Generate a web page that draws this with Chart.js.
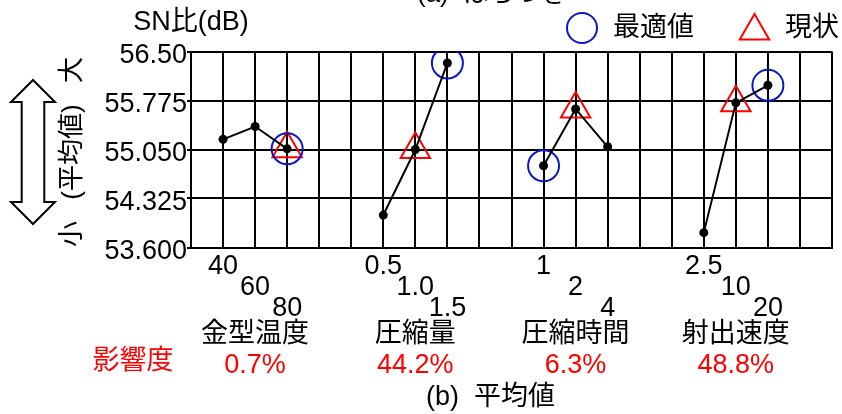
<!DOCTYPE html>
<html>
<head>
<meta charset="utf-8">
<script src="https://cdn.jsdelivr.net/npm/chart.js@4/dist/chart.umd.min.js"></script>
<style>
  html, body { margin: 0; padding: 0; background: #fff; }
  #wrap { width: 842px; height: 414px; }
</style>
</head>
<body>
<div id="wrap"><canvas id="c" width="842" height="414"></canvas></div>
<script>
// Factor effects on the mean (平均値): SN ratio in dB for each level of each factor
const factors = ['金型温度', '圧縮量', '圧縮時間', '射出速度'];
const levelLabels = [
  ['40', '60', '80'],
  ['0.5', '1.0', '1.5'],
  ['1', '2', '4'],
  ['2.5', '10', '20']
];
const meanSN = [
  [55.20, 55.39, 55.06],
  [54.08, 55.05, 56.33],
  [54.81, 55.65, 55.09],
  [53.82, 55.74, 56.00]
];
const optimalLevel = [2, 2, 0, 2];   // 最適値 (circle)
const currentLevel = [2, 1, 1, 1];   // 現状 (triangle)
const influence = ['0.7%', '44.2%', '6.3%', '48.8%'];
const yTicks = [53.6, 54.325, 55.05, 55.775, 56.5];
const yTickLabels = ['53.600', '54.325', '55.050', '55.775', '56.50'];

const FONT = '"Liberation Sans", Arial, "Noto Sans CJK JP", sans-serif';
const BLUE = '#0b16c8';
const RED = '#ff0000';

// each factor occupies 5 grid columns; its levels sit on columns 1..3 of the block
const slot = (f, l) => 1 + 5 * f + l;

const factorSets = factors.map((name, f) => ({
  label: name,
  data: meanSN[f].map((v, l) => ({ x: slot(f, l), y: v })),
  borderColor: '#000',
  borderWidth: 2,
  pointRadius: 4.5,
  pointBackgroundColor: '#000',
  pointBorderColor: '#000',
  pointBorderWidth: 0,
  tension: 0,
  order: 0
}));

const optimalSet = {
  label: '最適値',
  data: factors.map((_, f) => ({ x: slot(f, optimalLevel[f]), y: meanSN[f][optimalLevel[f]] })),
  showLine: false,
  pointStyle: 'circle',
  pointRadius: 15.5,
  pointBorderWidth: 2,
  pointBorderColor: BLUE,
  pointBackgroundColor: 'rgba(0,0,0,0)',
  order: 1
};

const currentSet = {
  label: '現状',
  data: factors.map((_, f) => ({ x: slot(f, currentLevel[f]), y: meanSN[f][currentLevel[f]] })),
  showLine: false,
  pointStyle: 'triangle',
  pointRadius: 17,
  pointBorderWidth: 2,
  pointBorderColor: RED,
  pointBackgroundColor: 'rgba(0,0,0,0)',
  order: 1
};

function levelTick(v) {
  const f = Math.floor((v - 1) / 5);
  const l = v - 1 - 5 * f;
  if (f < 0 || f >= factors.length || l < 0 || l > 2) return '';
  const lines = [];
  for (let i = 0; i < l; i++) lines.push('');
  lines.push(levelLabels[f][l]);
  return lines;
}

function marker(ctx, style, x, y, r, color) {
  ctx.save();
  ctx.strokeStyle = color;
  ctx.lineWidth = 2;
  ctx.beginPath();
  if (style === 'circle') {
    ctx.arc(x, y, r, 0, Math.PI * 2);
  } else {
    let a = 0;
    ctx.moveTo(x + Math.sin(a) * r, y - Math.cos(a) * r);
    a += 2 * Math.PI / 3;
    ctx.lineTo(x + Math.sin(a) * r, y - Math.cos(a) * r);
    a += 2 * Math.PI / 3;
    ctx.lineTo(x + Math.sin(a) * r, y - Math.cos(a) * r);
    ctx.closePath();
  }
  ctx.stroke();
  ctx.restore();
}

const annotations = {
  id: 'annotations',
  afterDraw(chart) {
    const ctx = chart.ctx;
    const xs = chart.scales.x;
    const area = chart.chartArea;
    ctx.save();
    ctx.fillStyle = '#000';

    // panel caption of the block above, cut by the top edge
    ctx.font = '26px ' + FONT;
    ctx.textAlign = 'left';
    ctx.textBaseline = 'alphabetic';
    ctx.fillText('(a)  ばらつき', 417, 2);

    // axis unit above the y axis
    ctx.textBaseline = 'middle';
    ctx.textAlign = 'center';
    ctx.font = '27px ' + FONT;
    ctx.fillText('SN比(dB)', area.left, 23);

    // legend
    ctx.font = '27px ' + FONT;
    ctx.textAlign = 'left';
    marker(ctx, 'circle', 582, 28, 15, BLUE);
    ctx.fillText(optimalSet.label, 613, 29);
    marker(ctx, 'triangle', 754.5, 31, 17, RED);
    ctx.fillText(currentSet.label, 785, 29);

    // hollow double arrow on the left
    const cx = 33, top = 80, bot = 224, hw = 22, sw = 11.3, hh = 22;
    ctx.beginPath();
    ctx.moveTo(cx, top);
    ctx.lineTo(cx + hw, top + hh);
    ctx.lineTo(cx + sw, top + hh);
    ctx.lineTo(cx + sw, bot - hh);
    ctx.lineTo(cx + hw, bot - hh);
    ctx.lineTo(cx, bot);
    ctx.lineTo(cx - hw, bot - hh);
    ctx.lineTo(cx - sw, bot - hh);
    ctx.lineTo(cx - sw, top + hh);
    ctx.lineTo(cx - hw, top + hh);
    ctx.closePath();
    ctx.fillStyle = '#fff';
    ctx.fill();
    ctx.lineWidth = 2;
    ctx.strokeStyle = '#000';
    ctx.lineJoin = 'miter';
    ctx.stroke();

    // rotated 大 (平均値) 小 label
    ctx.fillStyle = '#000';
    ctx.font = '26px ' + FONT;
    ctx.textAlign = 'center';
    [['大', 70], ['(平均値)', 152], ['小', 234]].forEach(([t, y]) => {
      ctx.save();
      ctx.translate(73, y);
      ctx.rotate(-Math.PI / 2);
      ctx.fillText(t, 0, 0);
      ctx.restore();
    });

    // factor names and their influence
    ctx.font = '27px ' + FONT;
    factors.forEach((name, f) => {
      const x = xs.getPixelForValue(slot(f, 1));
      ctx.fillStyle = '#000';
      ctx.fillText(name, x, 335);
      ctx.fillStyle = RED;
      ctx.fillText(influence[f], x, 366);
    });
    ctx.fillStyle = RED;
    ctx.fillText('影響度', 133, 362);

    // panel caption
    ctx.fillStyle = '#000';
    ctx.textAlign = 'left';
    ctx.fillText('(b)  平均値', 426, 398);
    ctx.restore();
  }
};

new Chart(document.getElementById('c'), {
  type: 'line',
  data: { datasets: [...factorSets, optimalSet, currentSet] },
  options: {
    responsive: false,
    animation: false,
    devicePixelRatio: 1,
    layout: { autoPadding: false, padding: { top: 51.5, left: 0, right: 10, bottom: 0 } },
    plugins: { legend: { display: false }, tooltip: { enabled: false }, title: { display: false } },
    scales: {
      x: {
        type: 'linear',
        min: 0,
        max: 20,
        afterBuildTicks: s => { s.ticks = Array.from({ length: 21 }, (_, i) => ({ value: i })); },
        afterFit: s => { s.height = 414 - 247.5; },
        ticks: {
          autoSkip: false,
          maxRotation: 0,
          minRotation: 0,
          padding: 9,
          color: '#000',
          font: { family: FONT, size: 27, lineHeight: '21px' },
          callback: v => levelTick(v)
        },
        grid: { color: '#000', lineWidth: 2, drawTicks: false, tickLength: 0 },
        border: { color: '#000', width: 2 }
      },
      y: {
        min: 53.6,
        max: 56.5,
        afterBuildTicks: s => { s.ticks = yTicks.map(v => ({ value: v })); },
        afterFit: s => { s.width = 191; },
        ticks: {
          padding: 0,
          labelOffset: 4,
          color: '#000',
          font: { family: FONT, size: 27 },
          callback: (v, i) => yTickLabels[i]
        },
        grid: { color: '#000', lineWidth: 2, drawTicks: true, tickLength: 4 },
        border: { color: '#000', width: 2 }
      }
    }
  },
  plugins: [annotations]
});
</script>
</body>
</html>
